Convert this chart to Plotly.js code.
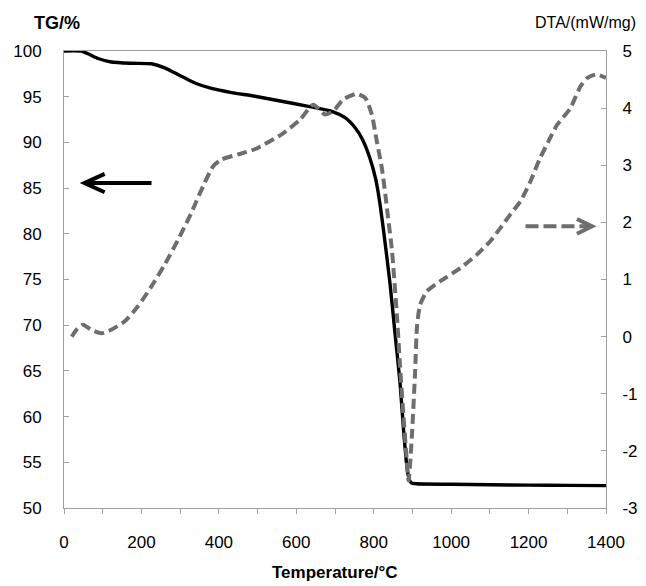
<!DOCTYPE html>
<html>
<head>
<meta charset="utf-8">
<script src="https://cdn.plot.ly/plotly-3.0.1.min.js"></script>
<style>html,body{margin:0;padding:0;background:#fff;}#chart{width:646px;height:586px;}</style>
</head>
<body>
<div id="chart"></div>
<script>
// TG curve (mass %, left axis)
var tgTemp = [0, 45, 62, 88, 122, 174, 226, 260, 303, 338, 381, 433, 493, 562, 631, 692, 726, 752, 770, 790, 805, 815, 825, 842, 855, 868, 877, 885, 891, 897, 910, 1000, 1100, 1200, 1300, 1400];
var tgVal  = [100, 99.98, 99.7, 99.18, 98.8, 98.66, 98.6, 98.16, 97.24, 96.5, 95.9, 95.45, 95.05, 94.5, 93.95, 93.4, 92.7, 91.6, 90.4, 88.3, 86.0, 83.6, 80.5, 74.6, 69.1, 63.7, 58.6, 54.8, 53.2, 52.75, 52.65, 52.6, 52.55, 52.5, 52.47, 52.45];

// DTA curve (mW/mg, right axis)
var dtaTemp = [20, 32, 49, 70, 96, 122, 157, 191, 226, 260, 295, 329, 359, 385, 407, 450, 493, 562, 610, 644, 674, 696, 721, 756, 778, 795, 808, 821, 830, 836, 847, 860, 868, 877, 884, 890, 899, 907, 912, 920, 937, 972, 1024, 1067, 1101, 1127, 1153, 1179, 1205, 1228, 1250, 1274, 1308, 1334, 1352, 1375, 1400];
var dtaVal  = [0.0, 0.12, 0.21, 0.12, 0.06, 0.12, 0.27, 0.53, 0.88, 1.26, 1.7, 2.17, 2.63, 2.98, 3.1, 3.19, 3.28, 3.54, 3.8, 4.06, 3.89, 3.95, 4.15, 4.25, 4.18, 3.89, 3.42, 2.95, 2.49, 2.14, 1.52, 0.36, -0.52, -1.4, -2.04, -2.52, -1.69, -0.6, 0.2, 0.56, 0.79, 0.97, 1.2, 1.44, 1.67, 1.9, 2.14, 2.37, 2.72, 3.1, 3.4, 3.71, 4.0, 4.38, 4.53, 4.59, 4.53];

// tick labels
var xTickVals = [0, 200, 400, 600, 800, 1000, 1200, 1400];
var tgTickVals = [50, 55, 60, 65, 70, 75, 80, 85, 90, 95, 100];
var dtaTickVals = [-3, -2, -1, 0, 1, 2, 3, 4, 5];
var dtaTickText = ['-3', '-2', '-1', '0', '1', '2', '3', '4', '5'];

var FONT = 'Arial, "Liberation Sans", sans-serif';
var AX = '#a0a0a0';
var GRAY = '#6e6e6e';

var traces = [
  {x: tgTemp, y: tgVal, type: 'scatter', mode: 'lines', yaxis: 'y',
   line: {color: '#000', width: 3.4, shape: 'spline', smoothing: 0.6}, hoverinfo: 'skip'},
  {x: dtaTemp, y: dtaVal, type: 'scatter', mode: 'lines', yaxis: 'y2',
   line: {color: GRAY, width: 4, dash: '10px,5px', shape: 'spline', smoothing: 0.6}, hoverinfo: 'skip'}
];

// arrow decorations (in axis units)
var tgArrowY = 85.55, tgArrowTip = 53, tgArrowTail = 226;
var dtaArrowY = 1.93, dtaArrowTail = 1192, dtaArrowTip = 1364;

var layout = {
  width: 646, height: 586,
  margin: {l: 64, r: 40, t: 51, b: 78},
  paper_bgcolor: '#fff', plot_bgcolor: '#fff',
  showlegend: false,
  font: {family: FONT, size: 17, color: '#000'},
  xaxis: {
    range: [0, 1400], tickvals: xTickVals, ticks: 'outside', ticklen: 5, tickcolor: AX,
    showline: true, linecolor: AX, linewidth: 1, mirror: true,
    showgrid: false, zeroline: false, ticklabelstandoff: 14,
    tickfont: {family: FONT, size: 17, color: '#000'},
    minor: {dtick: 100, ticks: 'outside', ticklen: 5, tickcolor: AX, showgrid: false}
  },
  yaxis: {
    range: [50, 100], tickvals: tgTickVals, ticks: 'inside', ticklen: 5, tickcolor: AX,
    showline: true, linecolor: AX, linewidth: 1,
    showgrid: false, zeroline: false, ticklabelstandoff: 18,
    tickfont: {family: FONT, size: 17, color: '#000'}
  },
  yaxis2: {
    overlaying: 'y', side: 'right', range: [-3, 5],
    tickvals: dtaTickVals, ticktext: dtaTickText, ticks: 'inside', ticklen: 5, tickcolor: AX,
    showline: true, linecolor: AX, linewidth: 1,
    showgrid: false, zeroline: false, ticklabelstandoff: 12,
    tickfont: {family: FONT, size: 17, color: '#000'}
  },
  shapes: [
    {type: 'line', xref: 'x', yref: 'y', x0: tgArrowTip + 4, x1: tgArrowTail, y0: tgArrowY, y1: tgArrowY,
     line: {color: '#000', width: 4}},
    {type: 'path', xref: 'x', yref: 'y',
     path: 'M' + (tgArrowTip + 52) + ',' + (tgArrowY + 1.0) + 'L' + tgArrowTip + ',' + tgArrowY + 'L' + (tgArrowTip + 52) + ',' + (tgArrowY - 1.0),
     line: {color: '#000', width: 4}},
    {type: 'line', xref: 'x', yref: 'y2', x0: dtaArrowTail, x1: dtaArrowTip - 10, y0: dtaArrowY, y1: dtaArrowY,
     line: {color: GRAY, width: 4, dash: '13px,5px'}},
    {type: 'path', xref: 'x', yref: 'y2',
     path: 'M' + (dtaArrowTip - 39) + ',' + (dtaArrowY + 0.13) + 'L' + dtaArrowTip + ',' + dtaArrowY + 'L' + (dtaArrowTip - 39) + ',' + (dtaArrowY - 0.13),
     line: {color: GRAY, width: 4}}
  ],
  annotations: [
    {text: '<b>TG/%</b>', xref: 'paper', yref: 'paper', x: -0.012, y: 1, yshift: 28,
     xanchor: 'center', yanchor: 'middle', showarrow: false, font: {family: FONT, size: 18, color: '#000'}},
    {text: 'DTA/(mW/mg)', xref: 'paper', yref: 'paper', x: 0.962, y: 1, yshift: 29,
     xanchor: 'center', yanchor: 'middle', showarrow: false, font: {family: FONT, size: 16, color: '#000'}},
    {text: '<b>Temperature/°C</b>', xref: 'paper', yref: 'paper', x: 0.5, y: 0, yshift: -64,
     xanchor: 'center', yanchor: 'middle', showarrow: false, font: {family: FONT, size: 17, color: '#000'}}
  ]
};

Plotly.newPlot('chart', traces, layout, {staticPlot: true, displayModeBar: false});
</script>
</body>
</html>
